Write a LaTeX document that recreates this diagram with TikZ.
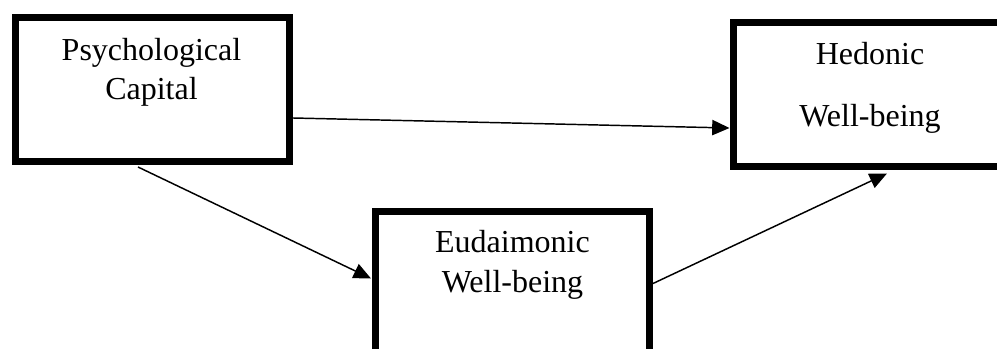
\documentclass[tikz,border=0pt]{standalone}
\usepackage{fontspec}
\setmainfont{Liberation Serif}
\usetikzlibrary{
  arrows.meta,
  positioning,
  calc
}
\tikzset{
  varbox/.style = {
    rectangle, draw=black, line width=5.25pt, fill=white,
    minimum width=205.5pt, minimum height=108pt, inner sep=0pt
  },
  vartext/.style = {
    anchor=base, align=center, inner sep=0pt,
    font=\fontsize{24pt}{29.25pt}\selectfont
  },
  arr/.style = {-{Triangle[length=13pt, width=11.5pt]}, draw=black, line width=1.1pt},
}

\begin{document}
\begin{tikzpicture}[x=0.75pt, y=-0.75pt]

  \useasboundingbox (0,0) rectangle (997,349);
  \clip (0,0) rectangle (997,349);

  % Variables
  \node[varbox] (psycap) at (152.5,89.5) {};
  \node[varbox] (hedonic) at (870,95) {};
  \node[varbox] (eudaim) at (512.5,283.5) {};

  % Labels
  \node[vartext] (psycap_txt) at ($(psycap.north)+(-1,86)$)
    {Psychological\\Capital};
  \node[vartext] (hedonic_txt) at ($(hedonic.north)+(0,107)$)
    {Hedonic\\[17.25pt]Well-being};
  \node[vartext] (eudaim_txt) at ($(eudaim.north)+(0,84)$)
    {Eudaimonic\\Well-being};

  % Paths
  \draw[arr] ($(psycap.east)+(0,28.5)$) -- ($(hedonic.west)+(0,33)$);
  \draw[arr] ($(psycap.south)+(-14.5,2)$) -- ($(eudaim.west)+(-1,-5)$);
  \draw[arr] (eudaim.east) -- ($(hedonic.south)+(17,3)$);

\end{tikzpicture}
\end{document}
